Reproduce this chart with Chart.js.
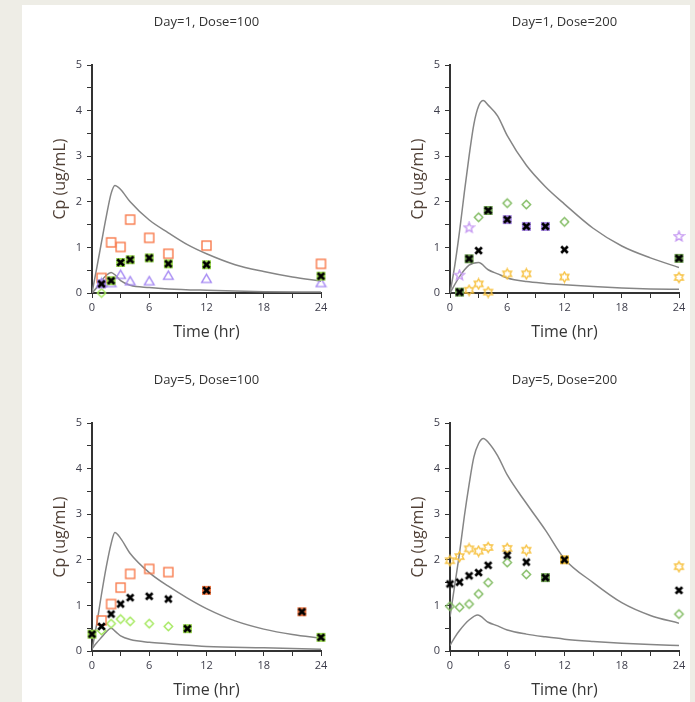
<!DOCTYPE html>
<html>
<head>
<meta charset="utf-8">
<script src="https://cdn.jsdelivr.net/npm/chart.js@4.4.1/dist/chart.umd.min.js"></script>
<style>
  html, body { margin: 0; padding: 0; width: 695px; height: 702px; overflow: hidden; background: #eeede6; }
  .blatt { position: absolute; left: 22px; top: 5px; width: 668px; height: 697px; background: #fff; }
  .panel { position: absolute; width: 310px; height: 339px; }
</style>
</head>
<body>
<div class="blatt"></div>
<div class="panel" style="left:22px;top:5px"><canvas id="chart1"></canvas></div>
<div class="panel" style="left:380px;top:5px"><canvas id="chart2"></canvas></div>
<div class="panel" style="left:22px;top:363px"><canvas id="chart3"></canvas></div>
<div class="panel" style="left:380px;top:363px"><canvas id="chart4"></canvas></div>
<script>
// === Daten ===
const titel = ['Day=1, Dose=100', 'Day=1, Dose=200', 'Day=5, Dose=100', 'Day=5, Dose=200'];
const xTicks = [0, 6, 12, 18, 24];
const yTicks = [0, 1, 2, 3, 4, 5];

// Panel 1: Day=1, Dose=100
const p1ObenZeit = [0, 0.5, 1, 1.5, 2, 2.4, 3, 4, 6, 8, 10, 12, 15, 18, 21, 24];
const p1ObenWert = [0, 0.55, 1.12, 1.68, 2.18, 2.36, 2.27, 2.0, 1.6, 1.32, 1.06, 0.86, 0.62, 0.47, 0.35, 0.26];
const p1UntenZeit = [0, 0.5, 1, 1.5, 2, 2.5, 3, 4, 6, 8, 12, 18, 24];
const p1UntenWert = [0, 0.12, 0.27, 0.39, 0.45, 0.38, 0.27, 0.17, 0.12, 0.09, 0.06, 0.03, 0.02];
const p1QuadratZeit = [1, 2, 3, 4, 6, 8, 12, 24];
const p1QuadratWert = [0.33, 1.11, 1.01, 1.61, 1.21, 0.86, 1.04, 0.64];
const p1DreieckZeit = [1, 2, 3, 4, 6, 8, 12, 24];
const p1DreieckWert = [0.22, 0.22, 0.4, 0.26, 0.26, 0.38, 0.31, 0.22];
const p1RauteZeit = [1];
const p1RauteWert = [0];
const p1KreuzZeit = [1, 2, 3, 4, 6, 8, 12, 24];
const p1KreuzWert = [0.2, 0.27, 0.67, 0.73, 0.77, 0.64, 0.62, 0.37];
const p1KreuzHinten = ['lila', 'gruen', 'gruen', 'gruen', 'gruen', 'gruen', 'gruen', 'gruen'];

// Panel 2: Day=1, Dose=200
const p2ObenZeit = [0, 0.5, 1, 1.5, 2, 2.5, 3, 3.5, 4, 5, 6, 8, 10, 12, 15, 18, 21, 24];
const p2ObenWert = [0, 0.6, 1.35, 2.2, 3.0, 3.7, 4.1, 4.22, 4.12, 3.88, 3.45, 2.8, 2.33, 1.95, 1.42, 1.03, 0.77, 0.56];
const p2UntenZeit = [0, 1, 2, 3, 4, 5, 6, 8, 10, 12, 15, 18, 21, 24];
const p2UntenWert = [0, 0.36, 0.61, 0.67, 0.51, 0.42, 0.33, 0.25, 0.21, 0.18, 0.14, 0.11, 0.09, 0.08];
const p2RauteZeit = [3, 6, 8, 12];
const p2RauteWert = [1.66, 1.97, 1.94, 1.56];
const p2LilaSternZeit = [1, 2, 24];
const p2LilaSternWert = [0.39, 1.43, 1.24];
const p2GelbSternZeit = [2, 3, 4, 6, 8, 12, 24];
const p2GelbSternWert = [0.06, 0.2, 0.02, 0.42, 0.42, 0.35, 0.34];
const p2KreuzZeit = [1, 2, 3, 4, 6, 8, 10, 12, 24];
const p2KreuzWert = [0.02, 0.75, 0.93, 1.81, 1.61, 1.46, 1.46, 0.95, 0.76];
const p2KreuzHinten = ['oliv', 'oliv', null, 'oliv', 'lila', 'lila', 'lila', null, 'oliv'];

// Panel 3: Day=5, Dose=100
const p3ObenZeit = [0, 0.5, 1, 1.5, 2, 2.4, 3, 4, 6, 8, 10, 12, 15, 18, 21, 24];
const p3ObenWert = [0.02, 0.6, 1.25, 1.85, 2.35, 2.6, 2.47, 2.14, 1.72, 1.42, 1.16, 0.93, 0.66, 0.48, 0.36, 0.28];
const p3UntenZeit = [0, 0.5, 1, 1.5, 2, 2.5, 3, 4, 6, 8, 12, 18, 24];
const p3UntenWert = [0.05, 0.18, 0.3, 0.42, 0.5, 0.42, 0.33, 0.25, 0.19, 0.16, 0.1, 0.07, 0.04];
const p3QuadratZeit = [1, 2, 3, 4, 6, 8];
const p3QuadratWert = [0.67, 1.03, 1.39, 1.69, 1.8, 1.73];
const p3RauteZeit = [1, 2, 3, 4, 6, 8];
const p3RauteWert = [0.45, 0.6, 0.7, 0.65, 0.6, 0.54];
const p3KreuzZeit = [0, 1, 2, 3, 4, 6, 8, 10, 12, 22, 24];
const p3KreuzWert = [0.37, 0.54, 0.81, 1.03, 1.17, 1.2, 1.14, 0.49, 1.33, 0.86, 0.3];
const p3KreuzHinten = ['gruen', null, null, null, null, null, null, 'gruen', 'orange', 'orange', 'gruen'];

// Panel 4: Day=5, Dose=200
const p4ObenZeit = [0, 0.5, 1, 1.5, 2, 2.5, 3, 3.5, 4, 5, 6, 8, 10, 12, 15, 18, 21, 24];
const p4ObenWert = [0.75, 1.45, 2.15, 2.95, 3.65, 4.25, 4.55, 4.66, 4.58, 4.28, 3.86, 3.24, 2.65, 2.02, 1.5, 1.06, 0.78, 0.61];
const p4UntenZeit = [0, 0.5, 1, 2, 2.9, 4, 5, 6, 8, 10, 12, 15, 18, 21, 24];
const p4UntenWert = [0.12, 0.3, 0.45, 0.68, 0.79, 0.63, 0.55, 0.46, 0.37, 0.31, 0.26, 0.21, 0.17, 0.14, 0.12];
const p4GelbSternZeit = [0, 1, 2, 3, 4, 6, 8, 24];
const p4GelbSternWert = [1.98, 2.07, 2.24, 2.19, 2.27, 2.25, 2.21, 1.85];
const p4RauteZeit = [0, 1, 2, 3, 4, 6, 8, 24];
const p4RauteWert = [0.98, 0.96, 1.03, 1.25, 1.5, 1.94, 1.68, 0.81];
const p4KreuzZeit = [0, 1, 2, 3, 4, 6, 8, 10, 12, 24];
const p4KreuzWert = [1.47, 1.51, 1.65, 1.72, 1.88, 2.1, 1.95, 1.61, 2.0, 1.33];
const p4KreuzHinten = [null, null, null, null, null, null, null, 'oliv', 'gelb', null];

// === Farben ===
const farben = {
  orange: '#f8794a',
  lila: '#a78bf3',
  gruen: '#a3e85c',
  oliv: '#7fba5f',
  gelb: '#f7c242',
  lilaStern: '#c79cf2'
};
const hintenFarben = {
  gruen: '#9cdc50',
  oliv: '#74a457',
  lila: '#a887e6',
  orange: '#f07a48',
  gelb: '#f2c243'
};

// === Marker als kleine Canvas ===
function zeichneMarker(form, farbe, hinten) {
  const c = document.createElement('canvas');
  c.width = 13;
  c.height = 13;
  const g = c.getContext('2d');
  const m = 6.5;
  g.strokeStyle = farbe;
  g.lineWidth = 1.4;

  const polygon = (punkte) => {
    g.beginPath();
    punkte.forEach(([px, py], i) => i === 0 ? g.moveTo(px, py) : g.lineTo(px, py));
    g.closePath();
    g.stroke();
  };
  const stern = (zacken, aussen, innen) => {
    const pkt = [];
    for (let i = 0; i < zacken * 2; i++) {
      const r = i % 2 === 0 ? aussen : innen;
      const w = -Math.PI / 2 + i * Math.PI / zacken;
      pkt.push([m + r * Math.cos(w), m + r * Math.sin(w)]);
    }
    polygon(pkt);
  };

  if (form === 'quadrat') {
    g.strokeRect(m - 4.5, m - 4.5, 9, 9);
  } else if (form === 'dreieck') {
    polygon([[m, m - 4.6], [m + 4.8, m + 3.6], [m - 4.8, m + 3.6]]);
  } else if (form === 'raute') {
    polygon([[m, m - 4.2], [m + 4.2, m], [m, m + 4.2], [m - 4.2, m]]);
  } else if (form === 'stern6') {
    stern(6, 5, 2.9);
  } else if (form === 'stern5') {
    stern(5, 5.2, 2.3);
  } else if (form === 'kreuz') {
    if (hinten) {
      g.fillStyle = hinten;
      g.fillRect(m - 4.5, m - 4.5, 9, 9);
    }
    g.strokeStyle = '#000';
    g.lineWidth = 2.7;
    g.beginPath();
    g.moveTo(m - 3.3, m - 3.3); g.lineTo(m + 3.3, m + 3.3);
    g.moveTo(m + 3.3, m - 3.3); g.lineTo(m - 3.3, m + 3.3);
    g.stroke();
  }
  return c;
}

const kreuzBilder = { leer: zeichneMarker('kreuz', '#000', null) };
Object.keys(hintenFarben).forEach(k => { kreuzBilder[k] = zeichneMarker('kreuz', '#000', hintenFarben[k]); });

const punkte = (zeit, werte) => zeit.map((t, i) => ({ x: t, y: werte[i] }));

function kurve(zeit, werte) {
  return {
    type: 'line',
    data: punkte(zeit, werte),
    borderColor: '#858585',
    borderWidth: 1.5,
    pointRadius: 0,
    cubicInterpolationMode: 'monotone',
    fill: false,
    order: 5
  };
}

function streuung(zeit, werte, bild) {
  return {
    data: punkte(zeit, werte),
    pointStyle: bild,
    pointRadius: 5,
    clip: false,
    order: 2
  };
}

function kreuze(zeit, werte, hinten) {
  return {
    data: punkte(zeit, werte),
    pointStyle: ctx => kreuzBilder[hinten[ctx.dataIndex]] || kreuzBilder.leer,
    pointRadius: 5,
    clip: false,
    order: 1
  };
}

// === Titel ueber der Zeichenflaeche ===
const panelTitel = {
  id: 'panelTitel',
  afterDraw(chart, args, opts) {
    const { ctx, chartArea } = chart;
    ctx.save();
    ctx.font = '13px "Open Sans"';
    ctx.fillStyle = '#333';
    ctx.textAlign = 'center';
    ctx.textBaseline = 'middle';
    ctx.fillText(opts.text, (chartArea.left + chartArea.right) / 2, chartArea.top - 43);
    ctx.restore();
  }
};

function baueChart(id, text, datasets) {
  new Chart(document.getElementById(id), {
    type: 'scatter',
    data: { datasets: datasets },
    options: {
      responsive: true,
      maintainAspectRatio: false,
      animation: false,
      layout: { padding: { left: 0, right: 11, top: 60, bottom: 0 } },
      scales: {
        x: {
          type: 'linear',
          min: 0,
          max: 24,
          afterFit: s => { s.height = 51; },
          afterBuildTicks: s => { s.ticks = [0, 3, 6, 9, 12, 15, 18, 21, 24].map(v => ({ value: v })); },
          ticks: {
            autoSkip: false,
            maxRotation: 0,
            padding: 3,
            color: '#3c3c4a',
            font: { family: 'Open Sans', size: 11 },
            callback: v => xTicks.includes(v) ? String(v) : ''
          },
          grid: { drawOnChartArea: false, tickLength: 5, color: '#333', lineWidth: 1 },
          border: { color: '#333', width: 2 },
          title: {
            display: true,
            text: 'Time (hr)',
            color: '#363636',
            font: { family: 'Open Sans', size: 16 },
            padding: { top: 0, bottom: 1.5 }
          }
        },
        y: {
          type: 'linear',
          min: 0,
          max: 5,
          afterFit: s => { s.width = 70; },
          afterBuildTicks: s => { s.ticks = [0, 0.5, 1, 1.5, 2, 2.5, 3, 3.5, 4, 4.5, 5].map(v => ({ value: v })); },
          ticks: {
            autoSkip: false,
            padding: 5,
            color: '#3c3c4a',
            font: { family: 'Open Sans', size: 11 },
            callback: v => yTicks.includes(v) ? String(v) : ''
          },
          grid: { drawOnChartArea: false, tickLength: 5, color: '#333', lineWidth: 1 },
          border: { color: '#333', width: 2 },
          title: {
            display: true,
            text: 'Cp (ug/mL)',
            color: '#4f3f35',
            font: { family: 'Open Sans', size: 16 },
            padding: { top: 29, bottom: 0 }
          }
        }
      },
      plugins: {
        legend: { display: false },
        tooltip: { enabled: false },
        panelTitel: { text: text }
      }
    },
    plugins: [panelTitel]
  });
}

// === Panels ===
baueChart('chart1', titel[0], [
  kreuze(p1KreuzZeit, p1KreuzWert, p1KreuzHinten),
  streuung(p1QuadratZeit, p1QuadratWert, zeichneMarker('quadrat', farben.orange)),
  streuung(p1DreieckZeit, p1DreieckWert, zeichneMarker('dreieck', farben.lila)),
  streuung(p1RauteZeit, p1RauteWert, zeichneMarker('raute', farben.gruen)),
  kurve(p1ObenZeit, p1ObenWert),
  kurve(p1UntenZeit, p1UntenWert)
]);

baueChart('chart2', titel[1], [
  kreuze(p2KreuzZeit, p2KreuzWert, p2KreuzHinten),
  streuung(p2RauteZeit, p2RauteWert, zeichneMarker('raute', farben.oliv)),
  streuung(p2LilaSternZeit, p2LilaSternWert, zeichneMarker('stern5', farben.lilaStern)),
  streuung(p2GelbSternZeit, p2GelbSternWert, zeichneMarker('stern6', farben.gelb)),
  kurve(p2ObenZeit, p2ObenWert),
  kurve(p2UntenZeit, p2UntenWert)
]);

baueChart('chart3', titel[2], [
  kreuze(p3KreuzZeit, p3KreuzWert, p3KreuzHinten),
  streuung(p3QuadratZeit, p3QuadratWert, zeichneMarker('quadrat', farben.orange)),
  streuung(p3RauteZeit, p3RauteWert, zeichneMarker('raute', farben.gruen)),
  kurve(p3ObenZeit, p3ObenWert),
  kurve(p3UntenZeit, p3UntenWert)
]);

baueChart('chart4', titel[3], [
  kreuze(p4KreuzZeit, p4KreuzWert, p4KreuzHinten),
  streuung(p4GelbSternZeit, p4GelbSternWert, zeichneMarker('stern6', farben.gelb)),
  streuung(p4RauteZeit, p4RauteWert, zeichneMarker('raute', farben.oliv)),
  kurve(p4ObenZeit, p4ObenWert),
  kurve(p4UntenZeit, p4UntenWert)
]);
</script>
</body>
</html>
